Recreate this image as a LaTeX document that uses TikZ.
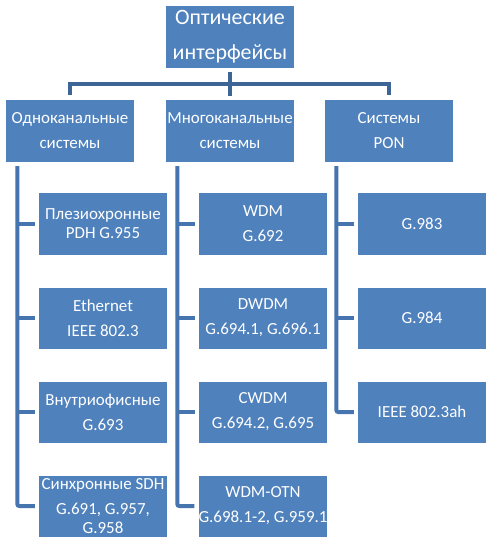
\documentclass[tikz,border=0pt]{standalone}
\usepackage{fontspec}
\setmainfont{Carlito}
\definecolor{boxblue}{HTML}{4F81BD}
\definecolor{barblue}{HTML}{3D6696}
\definecolor{brkblue}{HTML}{4674AE}
\begin{document}
\begin{tikzpicture}[x=1bp,y=-1bp,
  box/.style={rectangle, fill=boxblue, text=white, minimum width=128bp, minimum height=61bp, inner sep=0pt, align=center, font=\fontsize{17}{19}\selectfont},
  lvl/.style={box, minimum height=62bp, font=\fontsize{17}{25}\selectfont},
  bar/.style={draw=barblue, line width=4bp},
  brk/.style={draw=brkblue, line width=4bp}]
\useasboundingbox[fill=white] (0,0) rectangle (494,543);
% top
\node[lvl, font=\fontsize{22}{27}\selectfont] (top) at (230,37) {Оптические\\[8bp]интерфейсы};
% level 1
\node[lvl] (A) at (70,131) {Одноканальные\\системы};
\node[lvl] (B) at (230,131) {Многоканальные\\системы};
\node[lvl] (C) at (389,131) {Системы\\PON};
% children A
\node[box] (A1) at (103,224) {Плезиохронные\\PDH G.955};
\node[box] (A2) at (103,318) {Ethernet\\[6bp]IEEE 802.3};
\node[box] (A3) at (103,412) {Внутриофисные\\[6bp]G.693};
\node[box] (A4) at (103,506) {Синхронные SDH\\[6bp]G.691, G.957,\\G.958};
% children B
\node[box] (B1) at (263,224) {WDM\\[6bp]G.692};
\node[box] (B2) at (263,318) {DWDM\\[6bp]G.694.1, G.696.1};
\node[box] (B3) at (263,412) {CWDM\\[6bp]G.694.2, G.695};
\node[box] (B4) at (263,506) {WDM-OTN\\[6bp]G.698.1-2, G.959.1};
% children C
\node[box] (C1) at (422,224) {G.983};
\node[box] (C2) at (422,318) {G.984};
\node[box] (C3) at (422,412) {IEEE 802.3ah};
% top connectors
\coordinate (barY) at (0,84);
\draw[bar, shorten <=4bp] (top.south) -- (top.south |- barY);
\draw[bar, shorten <=4.5bp, shorten >=4.5bp] (A.north) -- (A.north |- barY) -- (C.north |- barY) -- (C.north);
\draw[bar, shorten <=4bp] (B.north) -- (B.north |- barY);
% brackets
\foreach \p/\n in {A/4,B/4,C/3}{
  \draw[brk, rounded corners=2bp, shorten <=4bp, shorten >=4bp]
    ([xshift=11.5bp]\p.south west) |- (\p\n.west);
}
\foreach \p/\n in {A/1,A/2,A/3,B/1,B/2,B/3,C/1,C/2}{
  \draw[brk, shorten >=4bp] ([xshift=11.5bp]\p.south west |- \p\n.west) -- (\p\n.west);
}
\end{tikzpicture}
\end{document}
